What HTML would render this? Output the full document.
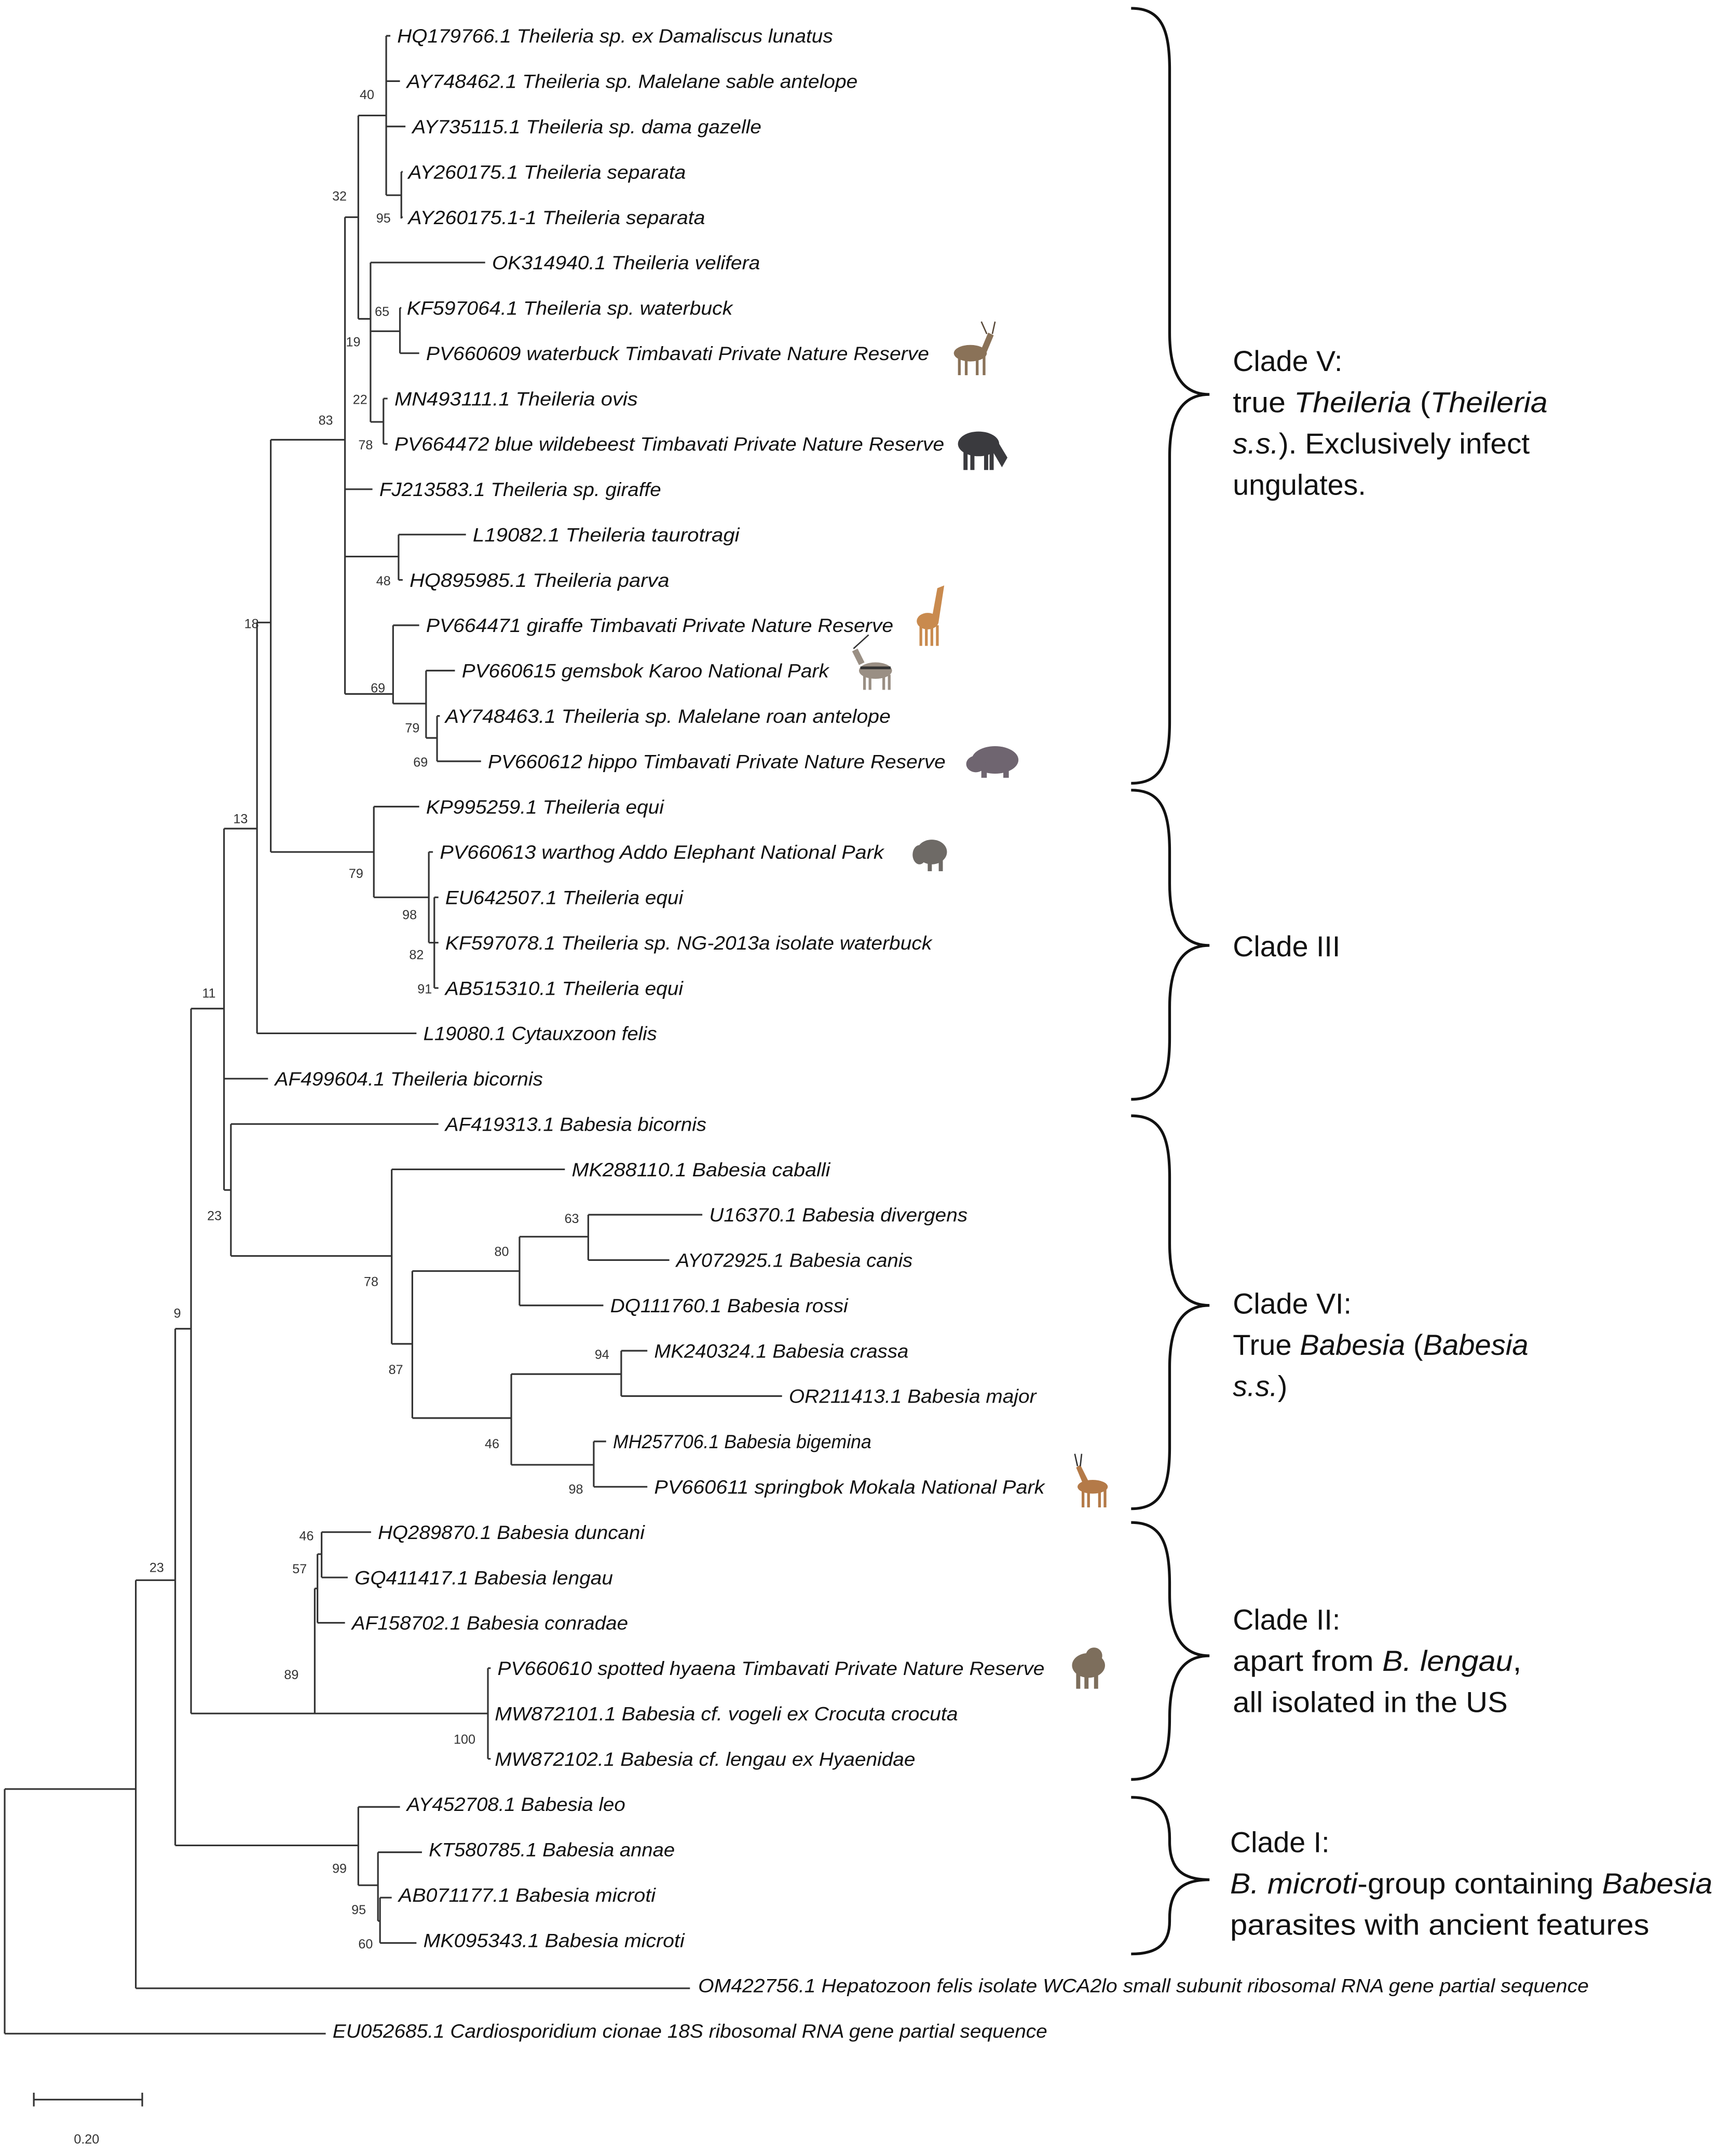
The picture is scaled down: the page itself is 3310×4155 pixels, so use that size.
<!DOCTYPE html>
<html><head><meta charset="utf-8"><style>
html,body{margin:0;padding:0;background:#fff;}
svg{display:block;}
.t{font-family:"Liberation Sans",sans-serif;font-style:italic;font-size:14px;fill:#111;}
.b{font-family:"Liberation Sans",sans-serif;font-size:9.5px;fill:#333;text-anchor:middle;}
.c{font-family:"Liberation Sans",sans-serif;font-size:21px;fill:#111;}
</style></head><body>
<svg width="3310" height="4155" viewBox="0 0 1250 1569" xmlns="http://www.w3.org/2000/svg">
<rect width="1250" height="1569" fill="#fff"/>
<g fill="none" stroke="#333" stroke-width="1.2">
<path d="
M281,26V142 M281,26H284 M281,59H291 M281,92H295 M281,142H292 M292,125V159 M292,125H293 M292,158H293
M260.7,84V232 M260.7,84H281
M269.6,191V307 M260.7,232H269.6 M269.6,191H353
M291,224V257 M269.6,241H291 M291,224H292 M291,257H305
M279,290V323 M269.6,307H279 M279,290H282 M279,323H282
M251,158V505 M251,158H260.7 M251,356H271
M290,389V422 M251,405H290 M290,389H339 M290,422H293
M286,455V512 M251,505H286 M286,455H305
M310,488V537 M286,512H310 M310,488H331
M318,521V554 M310,537H318 M318,521H320 M318,554H350
M197,320V620 M197,320H251
M272,587V653 M197,620H272 M272,587H305
M312,620V686 M272,653H312 M312,620H315
M316,653V719 M312,686H316 M316,653H319 M316,686H319 M316,719H319
M187,453V752 M187,453H197 M187,752H303
M163,603V866 M163,603H187 M163,785H195
M168,818V914 M163,866H168 M168,818H319
M285,851V978 M168,914H285 M285,851H411
M300,925V1032 M285,978H300
M378,900V950 M300,925H378 M378,950H439
M428,884V917 M378,900H428 M428,884H511 M428,917H487
M372,1000V1066 M300,1032H372
M452,983V1016 M372,1000H452 M452,983H471 M452,1016H569
M432,1049V1082 M372,1066H432 M432,1049H441 M432,1082H471
M139,734V1247 M139,734H163
M229,1156V1247 M139,1247H229
M231,1131V1181 M229,1156H231 M231,1181H251
M234,1115V1148 M231,1131H234 M234,1115H270 M234,1148H253
M355,1214V1280 M229,1247H355 M355,1214H357 M355,1247H355 M355,1280H357
M127.5,967V1343 M127.5,967H139
M260.7,1315V1372 M127.5,1343H260.7 M260.7,1315H291
M275,1348V1398 M260.7,1372H275 M275,1348H307
M276.5,1381V1414 M275,1398H276.5 M276.5,1381H285 M276.5,1414H303
M98.8,1150V1447 M98.8,1150H127.5 M98.8,1447H502
M3.4,1302V1480 M3.4,1302H98.8 M3.4,1480H237
M24.6,1528H103.5 M24.6,1523V1533 M103.5,1523V1533
"/>
</g>
<g fill="none" stroke="#111" stroke-width="2">
<path d="M823,6 C845,6 851,21 851,51 L851,242 C851,272 860,287 880,287 C860,287 851,302 851,332 L851,525 C851,555 845,570 823,570"/>
<path d="M823,575 C845,575 851,590 851,620 L851,643 C851,673 860,688 880,688 C860,688 851,703 851,733 L851,755 C851,785 845,800 823,800"/>
<path d="M823,812 C845,812 851,827 851,857 L851,905 C851,935 860,950 880,950 C860,950 851,965 851,995 L851,1053 C851,1083 845,1098 823,1098"/>
<path d="M823,1108 C845,1108 851,1123 851,1153 L851,1160 C851,1190 860,1205 880,1205 C860,1205 851,1220 851,1250 L851,1250 C851,1280 845,1295 823,1295"/>
<path d="M823,1308 C843,1308 851,1318 851,1338 L851,1340 C851,1360 860,1368 880,1368 C860,1368 851,1376 851,1396 L851,1398 C851,1414 843,1422 823,1422"/>
</g>
<g class="t">
<text x="289" y="31" textLength="317" lengthAdjust="spacingAndGlyphs">HQ179766.1 Theileria sp. ex Damaliscus lunatus</text>
<text x="296" y="64" textLength="328" lengthAdjust="spacingAndGlyphs">AY748462.1 Theileria sp. Malelane sable antelope</text>
<text x="300" y="97" textLength="254" lengthAdjust="spacingAndGlyphs">AY735115.1 Theileria sp. dama gazelle</text>
<text x="297" y="130" textLength="202" lengthAdjust="spacingAndGlyphs">AY260175.1 Theileria separata</text>
<text x="297" y="163" textLength="216" lengthAdjust="spacingAndGlyphs">AY260175.1-1 Theileria separata</text>
<text x="358" y="196" textLength="195" lengthAdjust="spacingAndGlyphs">OK314940.1 Theileria velifera</text>
<text x="296" y="229" textLength="237" lengthAdjust="spacingAndGlyphs">KF597064.1 Theileria sp. waterbuck</text>
<text x="310" y="262" textLength="366" lengthAdjust="spacingAndGlyphs">PV660609 waterbuck Timbavati Private Nature Reserve</text>
<text x="287" y="295" textLength="177" lengthAdjust="spacingAndGlyphs">MN493111.1 Theileria ovis</text>
<text x="287" y="328" textLength="400" lengthAdjust="spacingAndGlyphs">PV664472 blue wildebeest Timbavati Private Nature Reserve</text>
<text x="276" y="361" textLength="205" lengthAdjust="spacingAndGlyphs">FJ213583.1 Theileria sp. giraffe</text>
<text x="344" y="394" textLength="194" lengthAdjust="spacingAndGlyphs">L19082.1 Theileria taurotragi</text>
<text x="298" y="427" textLength="189" lengthAdjust="spacingAndGlyphs">HQ895985.1 Theileria parva</text>
<text x="310" y="460" textLength="340" lengthAdjust="spacingAndGlyphs">PV664471 giraffe Timbavati Private Nature Reserve</text>
<text x="336" y="493" textLength="267" lengthAdjust="spacingAndGlyphs">PV660615 gemsbok Karoo National Park</text>
<text x="324" y="526" textLength="324" lengthAdjust="spacingAndGlyphs">AY748463.1 Theileria sp. Malelane roan antelope</text>
<text x="355" y="559" textLength="333" lengthAdjust="spacingAndGlyphs">PV660612 hippo Timbavati Private Nature Reserve</text>
<text x="310" y="592" textLength="173" lengthAdjust="spacingAndGlyphs">KP995259.1 Theileria equi</text>
<text x="320" y="625" textLength="323" lengthAdjust="spacingAndGlyphs">PV660613 warthog Addo Elephant National Park</text>
<text x="324" y="658" textLength="173" lengthAdjust="spacingAndGlyphs">EU642507.1 Theileria equi</text>
<text x="324" y="691" textLength="354" lengthAdjust="spacingAndGlyphs">KF597078.1 Theileria sp. NG-2013a isolate waterbuck</text>
<text x="324" y="724" textLength="173" lengthAdjust="spacingAndGlyphs">AB515310.1 Theileria equi</text>
<text x="308" y="757" textLength="170" lengthAdjust="spacingAndGlyphs">L19080.1 Cytauxzoon felis</text>
<text x="200" y="790" textLength="195" lengthAdjust="spacingAndGlyphs">AF499604.1 Theileria bicornis</text>
<text x="324" y="823" textLength="190" lengthAdjust="spacingAndGlyphs">AF419313.1 Babesia bicornis</text>
<text x="416" y="856" textLength="188" lengthAdjust="spacingAndGlyphs">MK288110.1 Babesia caballi</text>
<text x="516" y="889" textLength="188" lengthAdjust="spacingAndGlyphs">U16370.1 Babesia divergens</text>
<text x="492" y="922" textLength="172" lengthAdjust="spacingAndGlyphs">AY072925.1 Babesia canis</text>
<text x="444" y="955" textLength="173" lengthAdjust="spacingAndGlyphs">DQ111760.1 Babesia rossi</text>
<text x="476" y="988" textLength="185" lengthAdjust="spacingAndGlyphs">MK240324.1 Babesia crassa</text>
<text x="574" y="1021" textLength="180" lengthAdjust="spacingAndGlyphs">OR211413.1 Babesia major</text>
<text x="446" y="1054" textLength="188" lengthAdjust="spacingAndGlyphs">MH257706.1 Babesia bigemina</text>
<text x="476" y="1087" textLength="284" lengthAdjust="spacingAndGlyphs">PV660611 springbok Mokala National Park</text>
<text x="275" y="1120" textLength="194" lengthAdjust="spacingAndGlyphs">HQ289870.1 Babesia duncani</text>
<text x="258" y="1153" textLength="188" lengthAdjust="spacingAndGlyphs">GQ411417.1 Babesia lengau</text>
<text x="256" y="1186" textLength="201" lengthAdjust="spacingAndGlyphs">AF158702.1 Babesia conradae</text>
<text x="362" y="1219" textLength="398" lengthAdjust="spacingAndGlyphs">PV660610 spotted hyaena Timbavati Private Nature Reserve</text>
<text x="360" y="1252" textLength="337" lengthAdjust="spacingAndGlyphs">MW872101.1 Babesia cf. vogeli ex Crocuta crocuta</text>
<text x="360" y="1285" textLength="306" lengthAdjust="spacingAndGlyphs">MW872102.1 Babesia cf. lengau ex Hyaenidae</text>
<text x="296" y="1318" textLength="159" lengthAdjust="spacingAndGlyphs">AY452708.1 Babesia leo</text>
<text x="312" y="1351" textLength="179" lengthAdjust="spacingAndGlyphs">KT580785.1 Babesia annae</text>
<text x="290" y="1384" textLength="187" lengthAdjust="spacingAndGlyphs">AB071177.1 Babesia microti</text>
<text x="308" y="1417" textLength="190" lengthAdjust="spacingAndGlyphs">MK095343.1 Babesia microti</text>
<text x="508" y="1450" textLength="648" lengthAdjust="spacingAndGlyphs">OM422756.1 Hepatozoon felis isolate WCA2lo small subunit ribosomal RNA gene partial sequence</text>
<text x="242" y="1483" textLength="520" lengthAdjust="spacingAndGlyphs">EU052685.1 Cardiosporidium cionae 18S ribosomal RNA gene partial sequence</text>
</g>
<g class="b">
<text x="267" y="72">40</text><text x="247" y="146">32</text><text x="279" y="162">95</text>
<text x="278" y="230">65</text><text x="257" y="252">19</text><text x="262" y="294">22</text>
<text x="237" y="309">83</text><text x="266" y="327">78</text><text x="279" y="426">48</text>
<text x="183" y="457">18</text><text x="275" y="504">69</text><text x="300" y="533">79</text>
<text x="306" y="558">69</text><text x="175" y="599">13</text><text x="259" y="639">79</text>
<text x="298" y="669">98</text><text x="303" y="698">82</text><text x="309" y="723">91</text>
<text x="152" y="726">11</text><text x="156" y="888">23</text><text x="270" y="936">78</text>
<text x="416" y="890">63</text><text x="365" y="914">80</text><text x="288" y="1000">87</text>
<text x="438" y="989">94</text><text x="358" y="1054">46</text><text x="419" y="1087">98</text>
<text x="129" y="959">9</text><text x="223" y="1121">46</text><text x="218" y="1145">57</text>
<text x="212" y="1222">89</text><text x="338" y="1269">100</text><text x="114" y="1144">23</text>
<text x="247" y="1363">99</text><text x="261" y="1393">95</text><text x="266" y="1418">60</text>
<text x="63" y="1560">0.20</text>
</g>
<g class="c">
<text x="897" y="270">Clade V:</text>
<text x="897" y="300" textLength="229" lengthAdjust="spacingAndGlyphs">true <tspan font-style="italic">Theileria</tspan> (<tspan font-style="italic">Theileria</tspan></text>
<text x="897" y="330" textLength="216" lengthAdjust="spacingAndGlyphs"><tspan font-style="italic">s.s.</tspan>). Exclusively infect</text>
<text x="897" y="360">ungulates.</text>
<text x="897" y="696">Clade III</text>
<text x="897" y="956">Clade VI:</text>
<text x="897" y="986" textLength="215" lengthAdjust="spacingAndGlyphs">True <tspan font-style="italic">Babesia</tspan> (<tspan font-style="italic">Babesia</tspan></text>
<text x="897" y="1016"><tspan font-style="italic">s.s.</tspan>)</text>
<text x="897" y="1186">Clade II:</text>
<text x="897" y="1216" textLength="210" lengthAdjust="spacingAndGlyphs">apart from <tspan font-style="italic">B. lengau</tspan>,</text>
<text x="897" y="1246" textLength="200" lengthAdjust="spacingAndGlyphs">all isolated in the US</text>
<text x="895" y="1348">Clade I:</text>
<text x="895" y="1378" textLength="351" lengthAdjust="spacingAndGlyphs"><tspan font-style="italic">B. microti</tspan>-group containing <tspan font-style="italic">Babesia</tspan></text>
<text x="895" y="1408" textLength="305" lengthAdjust="spacingAndGlyphs">parasites with ancient features</text>
</g>
<!-- animals -->
<g>
<!-- waterbuck -->
<g fill="#8a7258"><ellipse cx="706" cy="257" rx="12" ry="6"/><rect x="697" y="259" width="2" height="14"/><rect x="702" y="259" width="2" height="14"/><rect x="710" y="259" width="2" height="14"/><rect x="715" y="259" width="2" height="14"/><path d="M714,254 L719,242 L723,244 L718,256 Z"/><path d="M718,243 L714,234 M722,243 L724,234" stroke="#5a4a3a" stroke-width="1"/></g>
<!-- wildebeest -->
<g fill="#3a3a3e"><ellipse cx="712" cy="323" rx="15" ry="9"/><path d="M724,318 L733,333 L729,340 L722,328 Z"/><rect x="701" y="328" width="3" height="14"/><rect x="706" y="328" width="3" height="14"/><rect x="716" y="328" width="3" height="14"/><rect x="720" y="328" width="3" height="14"/></g>
<!-- giraffe -->
<g fill="#c98a4e"><ellipse cx="675" cy="452" rx="8" ry="6"/><path d="M678,450 L682,428 L687,426 L683,452 Z"/><rect x="669" y="455" width="2" height="15"/><rect x="673" y="455" width="2" height="15"/><rect x="677" y="455" width="2" height="15"/><rect x="681" y="455" width="2" height="15"/></g>
<!-- gemsbok -->
<g fill="#9a8f84"><ellipse cx="637" cy="488" rx="12" ry="6"/><path d="M625,484 L620,474 L624,472 L629,482 Z"/><rect x="628" y="491" width="2" height="11"/><rect x="632" y="491" width="2" height="11"/><rect x="642" y="491" width="2" height="11"/><rect x="646" y="491" width="2" height="11"/><path d="M621,472 L632,462" stroke="#333" stroke-width="1"/><rect x="626" y="485" width="22" height="2" fill="#333"/></g>
<!-- hippo -->
<g fill="#6f6570"><ellipse cx="724" cy="553" rx="17" ry="10"/><ellipse cx="710" cy="556" rx="7" ry="6"/><rect x="714" y="558" width="4" height="8"/><rect x="730" y="558" width="4" height="8"/></g>
<!-- warthog -->
<g fill="#6e6a66"><ellipse cx="678" cy="620" rx="11" ry="9"/><ellipse cx="669" cy="622" rx="5" ry="7"/><rect x="675" y="625" width="3" height="9"/><rect x="683" y="625" width="3" height="9"/></g>
<!-- springbok -->
<g fill="#b47a48"><ellipse cx="795" cy="1082" rx="11" ry="5"/><path d="M788,1080 L783,1068 L786,1066 L792,1078 Z"/><rect x="787" y="1084" width="2" height="13"/><rect x="791" y="1084" width="2" height="13"/><rect x="799" y="1084" width="2" height="13"/><rect x="803" y="1084" width="2" height="13"/><path d="M784,1067 L782,1058 M786,1067 L787,1058" stroke="#333" stroke-width="1"/></g>
<!-- hyaena -->
<g fill="#7d6e5c"><ellipse cx="792" cy="1212" rx="12" ry="9"/><ellipse cx="796" cy="1205" rx="6" ry="6"/><rect x="783" y="1216" width="3" height="13"/><rect x="789" y="1216" width="3" height="13"/><rect x="796" y="1216" width="3" height="13"/></g>
</g>
</svg>
</body></html>
